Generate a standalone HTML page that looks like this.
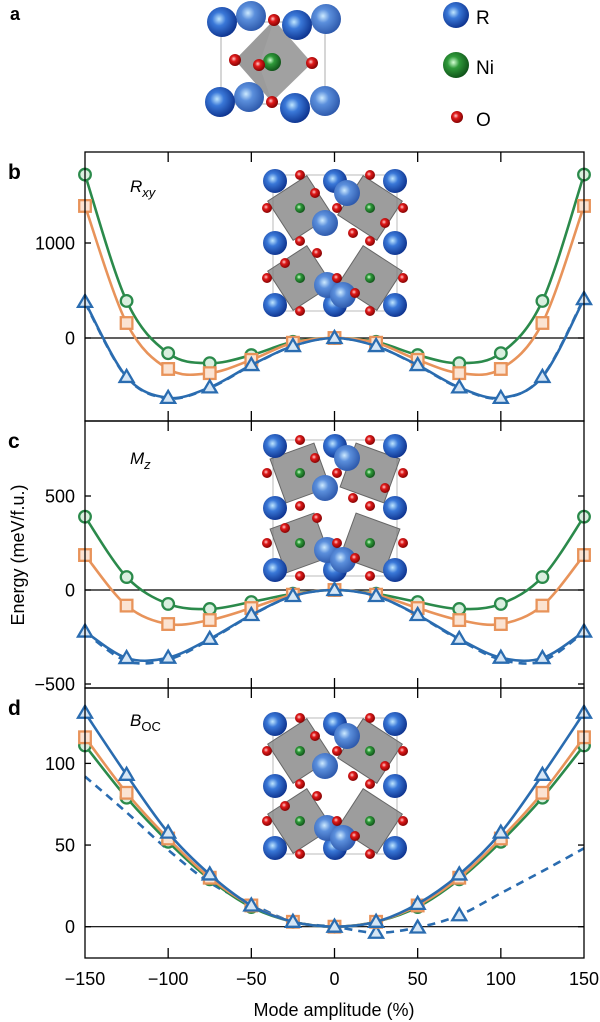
<!DOCTYPE html>
<html><head><meta charset="utf-8">
<style>
html,body{margin:0;padding:0;background:#fff;}
svg{display:block;font-family:"Liberation Sans",Arial,sans-serif;}
</style></head>
<body>
<svg id="chart" width="600" height="1022" viewBox="0 0 600 1022" xmlns="http://www.w3.org/2000/svg">
<defs>
<radialGradient id="gB" cx="0.4" cy="0.4" r="0.65"><stop offset="0" stop-color="#bfe6ff"/><stop offset="0.35" stop-color="#3a78d8"/><stop offset="1" stop-color="#0b2f8a"/></radialGradient>
<radialGradient id="gB2" cx="0.4" cy="0.4" r="0.65"><stop offset="0" stop-color="#cdeaff"/><stop offset="0.35" stop-color="#5b8fdc"/><stop offset="1" stop-color="#2a55a8"/></radialGradient>
<radialGradient id="gG" cx="0.4" cy="0.4" r="0.65"><stop offset="0" stop-color="#d4ffd4"/><stop offset="0.35" stop-color="#2f9a3a"/><stop offset="1" stop-color="#0d4d16"/></radialGradient>
<radialGradient id="gR" cx="0.4" cy="0.4" r="0.65"><stop offset="0" stop-color="#ffd0d0"/><stop offset="0.35" stop-color="#e01a1a"/><stop offset="1" stop-color="#7a0000"/></radialGradient>
</defs>
<g id="layer"></g>
</svg>
<script>
// ----- data -----
const xVals = [-150,-125,-100,-75,-50,-25,0,25,50,75,100,125,150];
const xTicks = [-150,-100,-50,0,50,100,150];
const bGreen = [1720,390,-160,-265,-180,-40,0,-40,-180,-265,-160,390,1720];
const bOrange = [1390,158,-326,-370,-230,-50,0,-50,-230,-370,-326,158,1390];
const bBlue = [380,-410,-630,-520,-285,-85,0,-85,-285,-520,-630,-410,410];
const bBlueDash = [370,-415,-635,-525,-290,-85,0,-85,-290,-525,-635,-405,420];
const bTicks = [0,1000];
const cGreen = [390,69,-74,-101,-64,-20,0,-20,-64,-101,-74,69,390];
const cOrange = [186,-83,-181,-160,-96,-25,0,-25,-96,-160,-181,-83,186];
const cBlue = [-221,-362,-360,-260,-133,-32,0,-32,-133,-260,-360,-362,-221];
const cBlueDash = [-225,-378,-370,-265,-135,-32,0,-32,-135,-265,-370,-378,-225];
const cTicks = [-500,0,500];
const dGreen = [111,79,52,29,12,3,0,3,12,29,52,79,111];
const dOrange = [116,82,54,30,13,3,0,3,13,30,54,82,116];
const dBlue = [131,93,57.6,32,13,3,0,3,14,32,57.6,93,131];
const dBlueDash = [92,70,47,27,14,3,0,-3.7,-0.5,7,20.5,34,48];
const dDashMarkers = [25,50,75];
const dTicks = [0,50,100];

const NS="http://www.w3.org/2000/svg";
const layer=document.getElementById('layer');
function mk(tag,attrs,parent){const e=document.createElementNS(NS,tag);for(const k in attrs)e.setAttribute(k,attrs[k]);(parent||layer).appendChild(e);return e;}
const L=85,R=584;
function xs(v){return L+(v+150)/300*(R-L);}
const GREEN="#2b8a4b",ORANGE="#e8935a",BLUE="#2a6cb0";
const FILL={[GREEN]:"#d9efdf",[ORANGE]:"#fbe3d2",[BLUE]:"#d6e6f5"};

function spline(pts){
  let d=`M${pts[0][0]},${pts[0][1]}`;
  for(let i=0;i<pts.length-1;i++){
    const p0=pts[i-1]||pts[i],p1=pts[i],p2=pts[i+1],p3=pts[i+2]||p2;
    const c1=[p1[0]+(p2[0]-p0[0])/6,p1[1]+(p2[1]-p0[1])/6];
    const c2=[p2[0]-(p3[0]-p1[0])/6,p2[1]-(p3[1]-p1[1])/6];
    d+=` C${c1[0]},${c1[1]} ${c2[0]},${c2[1]} ${p2[0]},${p2[1]}`;
  }
  return d;
}
function marker(kind,x,y,col,g){
  let e;
  if(kind==='circle') e=mk('circle',{cx:x,cy:y,r:5.8,fill:FILL[col],stroke:col,'stroke-width':2.3},g);
  else if(kind==='square') e=mk('rect',{x:x-5.8,y:y-5.8,width:11.6,height:11.6,fill:FILL[col],stroke:col,'stroke-width':2.3},g);
  else e=mk('polygon',{points:`${x},${y-7} ${x-7},${y+5} ${x+7},${y+5}`,fill:FILL[col],stroke:col,'stroke-width':2.3},g);
  
  
}
function series(name,vals,ys,col,kind,dashed,markerXs){
  const g=mk('g',{});
  
  
  const pts=xVals.map((x,i)=>[xs(x),ys(vals[i])]);
  const p=mk('path',{d:spline(pts),fill:'none',stroke:col,'stroke-width':2.6},g);
  if(dashed)p.setAttribute('stroke-dasharray','8 6');
  
  
  xVals.forEach((x,i)=>{ if(!markerXs||markerXs.includes(x)) marker(kind,xs(x),ys(vals[i]),col,g); });
}
function panel(id,top,bot,y0,sc,ticks,series_list,letter){
  const ys=v=>y0-v*sc;
  const g=mk('g',{});
  
  
  const z=mk('line',{x1:L,x2:R,y1:ys(0),y2:ys(0),stroke:'#000','stroke-width':1.2},g);
  
  
  series_list.forEach(s=>series(...s.map((v,i)=>i===2?ys:v)));
  const fr=mk('rect',{x:L,y:top,width:R-L,height:bot-top,fill:'none',stroke:'#000','stroke-width':1.3});
  
  
  xTicks.slice(1,-1).forEach(t=>{
    mk('line',{x1:xs(t),x2:xs(t),y1:top,y2:top+10,stroke:'#000','stroke-width':1.3});
    mk('line',{x1:xs(t),x2:xs(t),y1:bot,y2:bot-10,stroke:'#000','stroke-width':1.3});
  });
  ticks.forEach(t=>{
    mk('line',{x1:L,x2:L+6,y1:ys(t),y2:ys(t),stroke:'#000','stroke-width':1.3});
    mk('line',{x1:R,x2:R-6,y1:ys(t),y2:ys(t),stroke:'#000','stroke-width':1.3});
    const tx=mk('text',{x:L-10,y:ys(t)+6.5,'text-anchor':'end','font-size':18});
    tx.textContent=t<0?'\u2212'+(-t):String(t);
    
    
  });
  const lt=mk('text',{x:8,y:top+27,'font-size':21,'font-weight':'bold'});
  lt.textContent=letter;
  
  
}

function sphere(x,y,r,grad,g){const c=mk('circle',{cx:x,cy:y,r:r,fill:'url(#'+grad+')'},g);}
function structure(cx,cy,rot,name){
  const g=mk('g',{transform:`translate(${cx},${cy})`});
  
  
  const oct=[[-35,-35],[35,-35],[-35,35],[35,35]];
  mk('rect',{x:-62,y:-68,width:124,height:136,fill:'none',stroke:'#aaa','stroke-width':0.8},g);
  oct.forEach(([x,y],i)=>{
    const a=(i%2?-1:1)*rot;
    mk('polygon',{points:`${x},${y-33} ${x+33},${y} ${x},${y+33} ${x-33},${y}`,fill:'#7c7c7c','fill-opacity':0.75,stroke:'#666',transform:`rotate(${a} ${x} ${y})`},g);
    sphere(x,y,5,'gG',g);
  });
  [[-60,-62],[60,-62],[-60,0],[60,0],[-60,62],[60,62],[0,-62],[0,62],[-10,-20],[-8,42],[12,-50],[8,52]].forEach(([x,y],i)=>sphere(x,y,i>7?13:12,i>7?'gB2':'gB',g));
  [[-35,-68],[35,-68],[-68,-35],[2,-35],[68,-35],[-35,-2],[35,-2],[-68,35],[2,35],[68,35],[-35,68],[35,68],[-20,-50],[50,-20],[-50,20],[20,50],[-18,10],[18,-10]].forEach(([x,y])=>sphere(x,y,5,'gR',g));
}

(function(){
  const g=mk('g',{});
  
  
  mk('rect',{x:221,y:22,width:104,height:82,fill:'none',stroke:'#999','stroke-width':0.8},g);
  mk('polygon',{points:'274,20 312,63 272,102 235,60',fill:'#8a8a8a','fill-opacity':0.8},g);
  mk('polygon',{points:'274,20 259,65 272,102 235,60',fill:'#9a9a9a','fill-opacity':0.8},g);
  sphere(272,62,9,'gG',g);
  [[251,16],[326,19],[249,97],[325,101]].forEach(p=>sphere(p[0],p[1],15,'gB2',g));
  [[222,22],[297,25],[220,102],[295,108]].forEach(p=>sphere(p[0],p[1],15,'gB',g));
  [[274,20],[272,102],[235,60],[312,63],[259,65]].forEach(p=>sphere(p[0],p[1],6,'gR',g));
  sphere(456,15,13,'gB',g);sphere(456,65,13,'gG',g);sphere(457,117,6,'gR',g);
  [['R',10],['Ni',60],['O',112]].forEach(([t,y])=>{const e=mk('text',{x:476,y:y+14,'font-size':19},g);e.textContent=t;});
  const a=mk('text',{x:10,y:20,'font-size':18,'font-weight':'bold'});a.textContent='a';
  
  
})();

structure(335,243,12,'rxy-structure');
structure(335,508,25,'mz-structure');
structure(335,786,12,'boc-structure');

panel('b',152,421,338,0.095,bTicks,[
  ['rxy-blue-dashed',bBlueDash,0,BLUE,'triangle',true,[]],
  ['rxy-green',bGreen,0,GREEN,'circle',false,null],
  ['rxy-orange',bOrange,0,ORANGE,'square',false,null],
  ['rxy-blue',bBlue,0,BLUE,'triangle',false,null]],'b');
panel('c',421,688,590,0.188,cTicks,[
  ['mz-blue-dashed',cBlueDash,0,BLUE,'triangle',true,[]],
  ['mz-green',cGreen,0,GREEN,'circle',false,null],
  ['mz-orange',cOrange,0,ORANGE,'square',false,null],
  ['mz-blue',cBlue,0,BLUE,'triangle',false,null]],'c');
panel('d',688,958,926.7,1.633,dTicks,[
  ['boc-blue-dashed',dBlueDash,0,BLUE,'triangle',true,dDashMarkers],
  ['boc-green',dGreen,0,GREEN,'circle',false,null],
  ['boc-orange',dOrange,0,ORANGE,'square',false,null],
  ['boc-blue',dBlue,0,BLUE,'triangle',false,null]],'d');

function title(x,y,main,sub,italicSub,name){
  const t=mk('text',{x:x,y:y,'font-size':17});
  
  
  const m=mk('tspan',{'font-style':'italic'},t);m.textContent=main;
  const s=mk('tspan',{dy:5,'font-size':13,'font-style':italicSub?'italic':'normal'},t);s.textContent=sub;
}
title(130,192,'R','xy',true,'rxy-title');
title(130,464,'M','z',true,'mz-title');
title(130,726,'B','OC',false,'boc-title');

xTicks.forEach(t=>{
  const e=mk('text',{x:xs(t),y:985,'text-anchor':'middle','font-size':18});
  e.textContent=t<0?'\u2212'+(-t):String(t);
  
  
});
const xl=mk('text',{x:334,y:1016,'text-anchor':'middle','font-size':18});
xl.textContent='Mode amplitude (%)';


const yl=mk('text',{x:0,y:0,'text-anchor':'middle','font-size':18,transform:'translate(24,555) rotate(-90)'});
yl.textContent='Energy (meV/f.u.)';


</script>
</body></html>
